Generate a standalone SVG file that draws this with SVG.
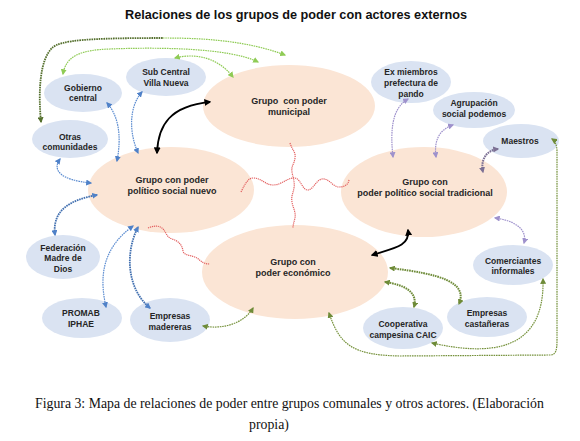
<svg xmlns="http://www.w3.org/2000/svg" width="580" height="441" viewBox="0 0 580 441">
<style>
.main{fill:#FBE5D5;stroke:none}
.blue{fill:#DAE3F2;stroke:none}
.t{font-family:"Liberation Sans",Arial,sans-serif;font-weight:bold;fill:#262626;text-anchor:middle;white-space:pre}
.tm{font-size:9px}
.tb{font-size:8.5px}
.title{font-family:"Liberation Sans",Arial,sans-serif;font-weight:bold;font-size:12.7px;fill:#111;text-anchor:middle}
.cap{font-family:"Liberation Serif","Times New Roman",serif;font-size:13.8px;fill:#111}
.c{fill:none;stroke-width:1.2;stroke-dasharray:1.6 0.8}
.g{stroke:#8FCB55}
.dg{stroke:#55702E;stroke-width:1.8}
.o{stroke:#76923C}
.ot{stroke:#6E8B38;stroke-width:2}
.b{stroke:#5A8BD0}
.db{stroke:#4270B0;stroke-width:1.8}
.p{stroke:#9E91CC}
.dp{stroke:#7C7094;stroke-width:2}
.k{stroke:#000;stroke-width:1.8;stroke-dasharray:none}
.r{stroke:#E36060;stroke-width:1.2;stroke-dasharray:1.2 0.8}
</style>
<defs>
<marker id="mg" viewBox="0 0 10 10" refX="8" refY="5" markerWidth="6" markerHeight="6" markerUnits="userSpaceOnUse" orient="auto-start-reverse"><path d="M0,0 L10,5 L0,10 z" fill="#8FCB55"/></marker>
<marker id="mdg" viewBox="0 0 10 10" refX="8" refY="5" markerWidth="6" markerHeight="6" markerUnits="userSpaceOnUse" orient="auto-start-reverse"><path d="M0,0 L10,5 L0,10 z" fill="#55702E"/></marker>
<marker id="mo" viewBox="0 0 10 10" refX="8" refY="5" markerWidth="6" markerHeight="6" markerUnits="userSpaceOnUse" orient="auto-start-reverse"><path d="M0,0 L10,5 L0,10 z" fill="#6E8B38"/></marker>
<marker id="mb" viewBox="0 0 10 10" refX="8" refY="5" markerWidth="6" markerHeight="6" markerUnits="userSpaceOnUse" orient="auto-start-reverse"><path d="M0,0 L10,5 L0,10 z" fill="#4F81C8"/></marker>
<marker id="mp" viewBox="0 0 10 10" refX="8" refY="5" markerWidth="6" markerHeight="6" markerUnits="userSpaceOnUse" orient="auto-start-reverse"><path d="M0,0 L10,5 L0,10 z" fill="#9E91CC"/></marker>
<marker id="mdp" viewBox="0 0 10 10" refX="8" refY="5" markerWidth="6" markerHeight="6" markerUnits="userSpaceOnUse" orient="auto-start-reverse"><path d="M0,0 L10,5 L0,10 z" fill="#7C7094"/></marker>
<marker id="mk" viewBox="0 0 10 10" refX="8" refY="5" markerWidth="7" markerHeight="7" markerUnits="userSpaceOnUse" orient="auto-start-reverse"><path d="M0,0 L10,5 L0,10 z" fill="#000"/></marker>
</defs>

<text class="title" x="296" y="19">Relaciones de los grupos de poder con actores externos</text>

<g id="n-municipal"><ellipse class="main" cx="289" cy="106" rx="86" ry="41"/><text class="t tm" x="289" y="104">Grupo  con poder</text><text class="t tm" x="289" y="115">municipal</text></g>
<g id="n-nuevo"><ellipse class="main" cx="171" cy="190" rx="83" ry="43"/><text class="t tm" x="172" y="183">Grupo con poder</text><text class="t tm" x="172" y="194">político social nuevo</text></g>
<g id="n-tradicional"><ellipse class="main" cx="424" cy="192" rx="83" ry="45"/><text class="t tm" x="425" y="185">Grupo con</text><text class="t tm" x="425" y="196">poder político social tradicional</text></g>
<g id="n-economico"><ellipse class="main" cx="295" cy="272" rx="93" ry="47"/><text class="t tm" x="293" y="265">Grupo con</text><text class="t tm" x="293" y="276">poder económico</text></g>

<g id="n-gobierno"><ellipse class="blue" cx="83" cy="93" rx="39" ry="19"/><text class="t tb" x="83" y="91">Gobierno</text><text class="t tb" x="83" y="101">central</text></g>
<g id="n-subcentral"><ellipse class="blue" cx="166" cy="77" rx="40" ry="19"/><text class="t tb" x="166" y="75">Sub Central</text><text class="t tb" x="166" y="86">Villa Nueva</text></g>
<g id="n-otras"><ellipse class="blue" cx="70" cy="139" rx="38" ry="19"/><text class="t tb" x="70" y="140">Otras</text><text class="t tb" x="70" y="150">comunidades</text></g>
<g id="n-federacion"><ellipse class="blue" cx="63" cy="257" rx="37" ry="22"/><text class="t tb" x="63" y="251">Federación</text><text class="t tb" x="63" y="261">Madre de</text><text class="t tb" x="63" y="272">Dios</text></g>
<g id="n-promab"><ellipse class="blue" cx="82" cy="318" rx="40" ry="20"/><text class="t tb" x="81" y="316">PROMAB</text><text class="t tb" x="81" y="327">IPHAE</text></g>
<g id="n-madereras"><ellipse class="blue" cx="170" cy="320" rx="40" ry="22"/><text class="t tb" x="170" y="319">Empresas</text><text class="t tb" x="170" y="330">madereras</text></g>
<g id="n-exmiembros"><ellipse class="blue" cx="411" cy="82" rx="40" ry="21"/><text class="t tb" x="411" y="75">Ex miembros</text><text class="t tb" x="411" y="86">prefectura de</text><text class="t tb" x="411" y="97">pando</text></g>
<g id="n-agrupacion"><ellipse class="blue" cx="474" cy="110" rx="41" ry="18"/><text class="t tb" x="474" y="106">Agrupación</text><text class="t tb" x="474" y="117">social podemos</text></g>
<g id="n-maestros"><ellipse class="blue" cx="521" cy="141" rx="38" ry="17"/><text class="t tb" x="520" y="144">Maestros</text></g>
<g id="n-comerciantes"><ellipse class="blue" cx="513" cy="265" rx="40" ry="20"/><text class="t tb" x="513" y="264">Comerciantes</text><text class="t tb" x="513" y="274">informales</text></g>
<g id="n-castaneras"><ellipse class="blue" cx="487" cy="317" rx="40" ry="20"/><text class="t tb" x="487" y="316">Empresas</text><text class="t tb" x="487" y="327">castañeras</text></g>
<g id="n-cooperativa"><ellipse class="blue" cx="403" cy="328" rx="40" ry="21"/><text class="t tb" x="403" y="327">Cooperativa</text><text class="t tb" x="403" y="338">campesina CAIC</text></g>

<g id="connectors">
<path class="c dg" d="M41,122 C38,90 40,60 52,48 C60,40 90,38 163,38" marker-start="url(#mdg)"/>
<path class="c g" d="M163,38 C200,38 245,40 285,55" marker-end="url(#mg)"/>
<path class="c g" d="M63,74 C66,56 80,50 110,49 C160,47 230,48 258,62" marker-start="url(#mg)" marker-end="url(#mg)"/>
<path class="c g" d="M175,58 C190,54 215,54 233,77" marker-start="url(#mg)" marker-end="url(#mg)"/>
<path class="c b" d="M107,103 C118,115 122,135 117,161" marker-start="url(#mb)" marker-end="url(#mb)"/>
<path class="c b" d="M142,92 C130,105 128,130 138,153" marker-start="url(#mb)" marker-end="url(#mb)"/>
<path class="c b" d="M60,159 C52,170 60,180 91,183" marker-start="url(#mb)" marker-end="url(#mb)"/>
<path class="c db" d="M97,195 C70,200 52,210 55,235" marker-start="url(#mb)" marker-end="url(#mb)"/>
<path class="c b" d="M106,307 C100,280 100,250 133,226" marker-start="url(#mb)" marker-end="url(#mb)"/>
<path class="c db" d="M150,308 C128,290 124,255 138,227" marker-start="url(#mb)" marker-end="url(#mb)"/>
<path class="c k" d="M157,153 C158,125 170,106 210,102" marker-start="url(#mk)" marker-end="url(#mk)"/>
<path class="c k" d="M372,255 C395,248 410,246 408,230" marker-start="url(#mk)" marker-end="url(#mk)"/>
<path class="c p" d="M408,99 C392,108 390,130 393,157" marker-start="url(#mp)" marker-end="url(#mp)"/>
<path class="c p" d="M453,125 C438,130 434,142 436,157" marker-start="url(#mp)" marker-end="url(#mp)"/>
<path class="c dp" d="M498,149 C488,150 480,158 483,172" marker-start="url(#mdp)" marker-end="url(#mdp)"/>
<path class="c p" d="M495,218 C512,220 528,228 524,243" marker-start="url(#mp)" marker-end="url(#mp)"/>
<path class="c o" d="M203,326 C225,330 245,322 253,308" marker-start="url(#mo)" marker-end="url(#mo)"/>
<path class="c ot" d="M385,282 C405,285 418,292 414,307" marker-start="url(#mo)" marker-end="url(#mo)"/>
<path class="c ot" d="M390,268 C440,274 468,282 459,304" marker-start="url(#mo)" marker-end="url(#mo)"/>
<path class="c o" d="M432,343 C490,356 545,352 543,279" marker-start="url(#mo)" marker-end="url(#mo)"/>
<path class="c o" d="M329,313 C340,345 352,355 400,356 L550,355 C556,355 557,350 557,340 L557,152 C557,145 555,141 552,139" marker-start="url(#mo)" marker-end="url(#mo)"/>
<path class="c r" d="M241,192 C245,184 248,178 253,178 C262,178 265,185 273,185 C282,185 288,177 295,178 C301,179 302,190 308,190 C313,190 316,180 322,179 C329,178 333,187 339,187 C345,187 349,184 349,179"/>
<path class="c r" d="M290,143 C292,150 296,152 295,158 C294,165 291,166 292,172 C293,178 295,182 294,188 C293,194 291,196 292,202 C293,208 296,212 295,218 C294,222 293,225 293,228"/>
<path class="c r" d="M148,228 C153,226 158,225 162,228 C166,231 166,237 172,239 C178,241 182,244 183,251 C184,256 192,255 197,258 C201,261 203,264 210,264"/>
</g>

<text class="cap" x="35" y="408">Figura 3: Mapa de relaciones de poder entre grupos comunales y otros actores. (Elaboración</text>
<text class="cap" x="269" y="429" text-anchor="middle">propia)</text>
</svg>
